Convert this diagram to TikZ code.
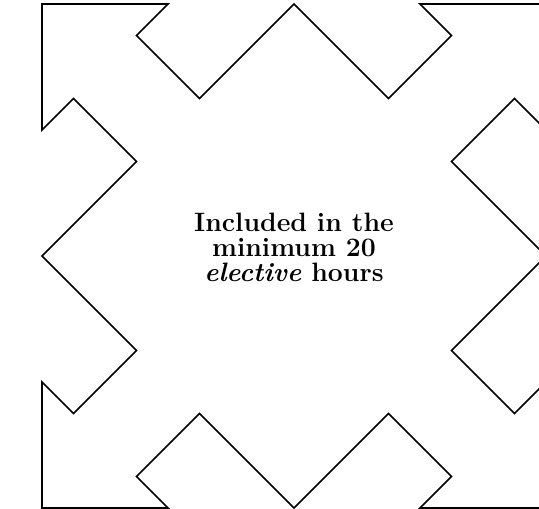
\documentclass[tikz,border=0pt]{standalone}
\begin{document}
\begin{tikzpicture}[x=31.5pt,y=31.5pt,
  outline/.style={draw=black,line width=1.6pt,line join=miter},
  label/.style={align=center,font=\fontsize{26.6}{25}\selectfont\bfseries,inner sep=0pt}]
\useasboundingbox (-294pt,-253pt) rectangle (245pt,256pt);
\draw[outline] (-8,8) -- (-4,8) -- (-5,7) -- (-3,5) -- (0,8) -- (3,5) -- (5,7) -- (4,8)
  -- (8,8) -- (8,4) -- (7,5) -- (5,3) -- (8,0) -- (5,-3) -- (7,-5) -- (8,-4)
  -- (8,-8) -- (4,-8) -- (5,-7) -- (3,-5) -- (0,-8) -- (-3,-5) -- (-5,-7) -- (-4,-8)
  -- (-8,-8) -- (-8,-4) -- (-7,-5) -- (-5,-3) -- (-8,0) -- (-5,3) -- (-7,5) -- (-8,4) -- cycle;
\node[label] (txt) at (0pt,9pt) {Included in the\\minimum 20\\\textit{elective} hours};
\end{tikzpicture}
\end{document}
